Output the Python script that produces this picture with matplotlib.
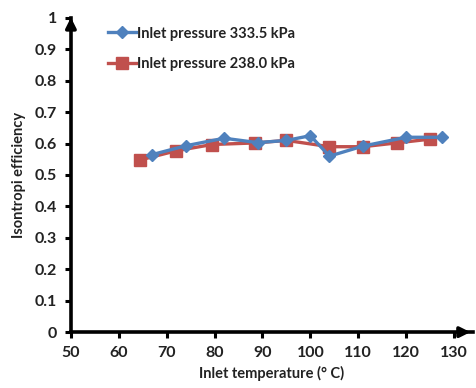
import matplotlib
matplotlib.use("Agg")
import matplotlib.pyplot as plt

# Inlet temperature (deg C) and isentropic efficiency for each inlet pressure
temp_333 = [67, 74, 82, 89, 95, 100, 104, 111, 120, 127.5]
eff_333 = [0.565, 0.593, 0.617, 0.603, 0.610, 0.625, 0.560, 0.592, 0.620, 0.620]

temp_238 = [64.5, 72, 79.5, 88.5, 95, 104, 111, 118, 125]
eff_238 = [0.548, 0.577, 0.597, 0.602, 0.610, 0.590, 0.590, 0.602, 0.614]

label_333 = "Inlet pressure 333.5 kPa"
label_238 = "Inlet pressure 238.0 kPa"
xticks = [50, 60, 70, 80, 90, 100, 110, 120, 130]
yticks = [0, 0.1, 0.2, 0.3, 0.4, 0.5, 0.6, 0.7, 0.8, 0.9, 1]

plt.rcParams['font.family'] = ['Lato', 'DejaVu Sans']

fig = plt.figure(figsize=(4.76, 3.88), dpi=100)
ax = fig.add_axes([0.149, 0.144, 0.845, 0.81])

blue = '#4F81BD'
red = '#C0504D'
ax.plot(temp_333, eff_333, color=blue, lw=2.4, marker='D', ms=6.5,
        mfc=blue, mec=blue, label=label_333, zorder=3)
ax.plot(temp_238, eff_238, color=red, lw=2.4, marker='s', ms=9,
        mfc=red, mec=red, label=label_238, zorder=2)

ax.set_xlim(50, 134)
ax.set_ylim(0, 1.0)
ax.set_xticks(xticks)
ax.set_yticks(yticks)
ax.set_yticklabels(['0', '0.1', '0.2', '0.3', '0.4', '0.5', '0.6', '0.7',
                    '0.8', '0.9', '1'])

for s in ['top', 'right']:
    ax.spines[s].set_visible(False)
for s in ['left', 'bottom']:
    ax.spines[s].set_linewidth(2.6)
    ax.spines[s].set_color('black')

ax.tick_params(axis='both', direction='out', length=4, width=2.2,
               labelsize=11.5, pad=6)
for lab in ax.get_xticklabels() + ax.get_yticklabels():
    lab.set_fontweight('bold')
    lab.set_color('#222222')

# arrowheads at the ends of the axes
ax.annotate('', xy=(1.0, 0), xycoords='axes fraction', xytext=(0.96, 0),
            arrowprops=dict(arrowstyle='-|>,head_length=0.6,head_width=0.3',
                            color='black', lw=2.6), annotation_clip=False)
ax.annotate('', xy=(0, 1.01), xycoords='axes fraction', xytext=(0, 0.96),
            arrowprops=dict(arrowstyle='-|>,head_length=0.6,head_width=0.3',
                            color='black', lw=2.6), annotation_clip=False)

ax.set_xlabel('Inlet temperature (\u00b0 C)', fontsize=10.5, fontweight='bold',
              labelpad=4, color='#222222')
ax.set_ylabel('Isontropi efficiency', fontsize=10.5, fontweight='bold',
              labelpad=6, color='#222222')

leg = ax.legend(loc='upper left', bbox_to_anchor=(0.07, 1.0), frameon=False,
                fontsize=10.5, handlelength=1.9, handletextpad=0.1,
                labelspacing=1.15, borderaxespad=0.2)
for t in leg.get_texts():
    t.set_fontweight('bold')
    t.set_color('#222222')

fig.savefig('out.png', dpi=100)
